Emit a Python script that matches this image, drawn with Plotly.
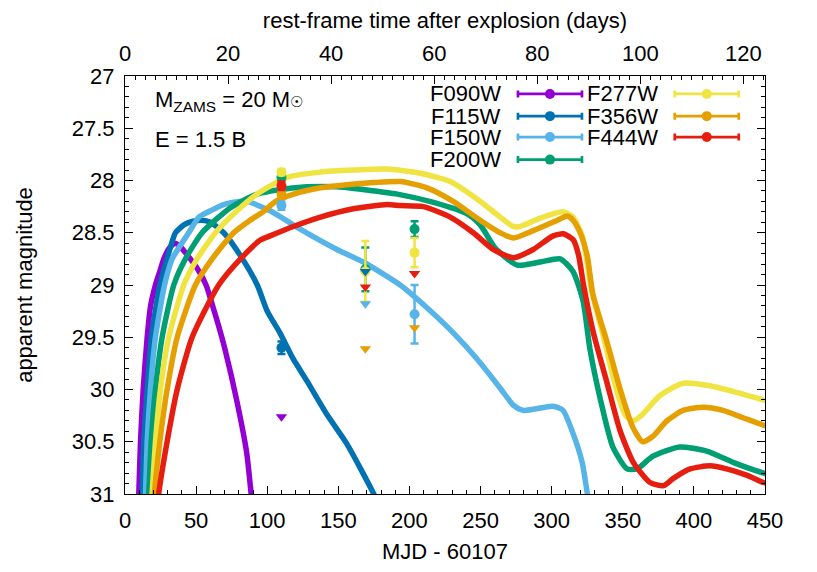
import plotly.graph_objects as go

# light curves: MJD - 60107 vs apparent magnitude
F090W_X = [9.3, 9.7, 10.9, 12.8, 15.6, 18.0, 21.4, 24.5, 27.3, 31.0, 35.0, 38.0, 43.0, 50.7, 57.0, 60.5,
           66.0, 70.0, 78.5, 85.5, 88.7, 89.8]
F090W_Y = [31.15, 31.0, 30.5, 30.0, 29.5, 29.2, 29.0, 28.87, 28.75, 28.65, 28.6, 28.62, 28.7, 28.84, 29.0, 29.15,
           29.4, 29.6, 30.1, 30.6, 31.0, 31.15]

F115W_X = [11.5, 12.1, 13.2, 15.6, 18.6, 24.5, 29.6, 35.5, 42.0, 48.0, 54.0, 60.0, 69.4, 81.2, 93.0, 100.0,
           109.0, 118.4, 128.0, 142.0, 156.0, 174.6, 180.0]
F115W_Y = [31.15, 31.0, 30.5, 30.0, 29.5, 29.0, 28.75, 28.5, 28.42, 28.39, 28.38, 28.4, 28.5, 28.72, 29.0, 29.25,
           29.46, 29.71, 29.92, 30.24, 30.52, 30.99, 31.15]

F150W_X = [13.8, 14.4, 15.6, 17.9, 21.4, 27.8, 33.2, 44.8, 52.0, 60.0, 69.2, 81.2, 86.0, 102.0, 125.0, 149.0,
           167.5, 193.5, 212.5, 231.0, 247.7, 264.0, 273.0, 280.0, 301.0, 308.0, 315.0, 321.5, 325.0, 327.0]
F150W_Y = [31.15, 31.0, 30.5, 30.0, 29.5, 29.0, 28.75, 28.5, 28.35, 28.29, 28.23, 28.2, 28.2, 28.29, 28.48, 28.66,
           28.78, 29.0, 29.22, 29.46, 29.71, 29.99, 30.15, 30.2, 30.16, 30.2, 30.42, 30.7, 30.99, 31.15]

F200W_X = [16.2, 16.7, 18.4, 21.4, 26.1, 34.3, 42.5, 54.2, 74.1, 92.9, 107.0, 128.0, 149.0, 170.0, 191.5, 217.0,
           240.6, 250.0, 260.5, 275.8, 292.0, 306.0, 315.0, 322.0, 327.0, 334.0, 343.0, 353.0, 360.0, 371.0,
           390.0, 409.0, 428.0, 449.0, 452.0]
F200W_Y = [31.15, 31.0, 30.5, 30.0, 29.5, 29.0, 28.75, 28.5, 28.26, 28.13, 28.09, 28.06, 28.06, 28.09, 28.13, 28.21,
           28.32, 28.43, 28.65, 28.81, 28.78, 28.75, 28.87, 29.15, 29.62, 30.08, 30.55, 30.76, 30.76, 30.64,
           30.55, 30.59, 30.7, 30.8, 30.81]

F277W_X = [18.5, 19.1, 21.4, 24.9, 30.8, 41.3, 50.7, 63.6, 78.8, 92.9, 114.0, 137.0, 160.5, 184.4, 207.6, 228.7,
           249.8, 263.8, 273.0, 278.0, 292.0, 308.0, 315.0, 321.5, 324.5, 328.0, 336.5, 345.5, 352.0, 357.0,
           363.0, 376.0, 392.4, 409.0, 428.0, 449.0, 452.0]
F277W_Y = [31.15, 31.0, 30.5, 30.0, 29.5, 29.0, 28.75, 28.5, 28.29, 28.13, 27.97, 27.92, 27.9, 27.89, 27.93, 28.01,
           28.2, 28.35, 28.44, 28.44, 28.36, 28.3, 28.35, 28.53, 28.75, 29.05, 29.5, 30.0, 30.25, 30.3,
           30.25, 30.06, 29.94, 29.96, 30.02, 30.1, 30.11]

F356W_X = [20.2, 20.7, 24.5, 29.6, 36.7, 49.5, 61.3, 76.4, 88.0, 97.0, 106.0, 118.6, 137.4, 156.0, 174.6, 193.6,
           212.3, 230.8, 249.7, 263.8, 273.0, 287.0, 304.0, 311.0, 315.0, 320.0, 325.0, 329.0, 339.0, 348.0,
           357.0, 364.0, 371.0, 381.0, 392.4, 406.5, 420.5, 434.6, 448.7, 452.0]
F356W_Y = [31.15, 31.0, 30.5, 30.0, 29.5, 29.0, 28.75, 28.5, 28.38, 28.3, 28.2, 28.13, 28.07, 28.04, 28.02, 28.01,
           28.07, 28.2, 28.38, 28.5, 28.55, 28.48, 28.38, 28.34, 28.38, 28.5, 28.72, 29.09, 29.55, 29.99,
           30.36, 30.5, 30.45, 30.3, 30.2, 30.17, 30.2, 30.27, 30.34, 30.35]

F444W_X = [23.0, 23.7, 29.6, 36.7, 47.2, 65.9, 81.2, 95.2, 102.0, 118.4, 137.4, 160.5, 184.4, 193.5, 209.7, 228.7,
           244.9, 258.9, 273.0, 287.0, 301.0, 308.3, 315.3, 319.0, 322.4, 329.4, 338.8, 348.0, 357.5, 369.2,
           378.6, 385.6, 397.3, 411.4, 423.0, 437.0, 448.8, 452.0]
F444W_Y = [31.15, 31.0, 30.5, 30.0, 29.5, 29.0, 28.75, 28.57, 28.53, 28.44, 28.35, 28.27, 28.23, 28.24, 28.25, 28.35,
           28.5, 28.66, 28.74, 28.66, 28.53, 28.51, 28.57, 28.72, 29.0, 29.46, 29.93, 30.39, 30.7, 30.89,
           30.92, 30.85, 30.76, 30.73, 30.76, 30.82, 30.89, 30.9]

FILTERS = ["F090W", "F115W", "F150W", "F200W", "F277W", "F356W", "F444W"]
COLORS = ["#9400D3", "#0072B2", "#56B4E9", "#009E73", "#F0E442", "#E69F00", "#E51E10"]
CURVES_X = [F090W_X, F115W_X, F150W_X, F200W_X, F277W_X, F356W_X, F444W_X]
CURVES_Y = [F090W_Y, F115W_Y, F150W_Y, F200W_Y, F277W_Y, F356W_Y, F444W_Y]

# observed photometry (detections with errors, and upper limits)
DET_X = {"F115W": [110], "F150W": [110, 203.6], "F200W": [110, 169, 203.6],
         "F277W": [110, 169, 203.6], "F356W": [110], "F444W": [110]}
DET_Y = {"F115W": [29.6], "F150W": [28.24, 29.28], "F200W": [27.97, 28.85, 28.465],
         "F277W": [27.92, 28.87, 28.69], "F356W": [28.13], "F444W": [28.05]}
DET_ERR = {"F115W": [0.06], "F150W": [0.04, 0.28], "F200W": [0.03, 0.21, 0.075],
           "F277W": [0.03, 0.29, 0.14], "F356W": [0.03], "F444W": [0.04]}
LIM_X = {"F090W": [110], "F115W": [169], "F150W": [169], "F356W": [169, 203.6], "F444W": [169, 203.6]}
LIM_Y = {"F090W": [30.26], "F115W": [28.87], "F150W": [29.18], "F356W": [29.61, 29.41], "F444W": [29.02, 28.89]}

TIME_DILATION = 3.623  # MJD days per rest-frame day
X_MAX = 450
FONT = "Liberation Sans"
FS = 22

fig = go.Figure()

for name, col, xs, ys in zip(FILTERS, COLORS, CURVES_X, CURVES_Y):
    fig.add_trace(go.Scatter(x=xs, y=ys, mode="lines",
                             line=dict(color=col, width=5.5, shape="spline", smoothing=0.6),
                             showlegend=False, hoverinfo="skip"))

for name, col in zip(FILTERS, COLORS):
    if name in DET_X:
        fig.add_trace(go.Scatter(
            x=DET_X[name], y=DET_Y[name], mode="markers",
            marker=dict(symbol="circle", size=10, color=col),
            error_y=dict(type="data", array=DET_ERR[name], color=col, thickness=2.5, width=4),
            showlegend=False))

for name, col in zip(FILTERS, COLORS):
    if name in LIM_X:
        fig.add_trace(go.Scatter(
            x=LIM_X[name], y=LIM_Y[name], mode="markers",
            marker=dict(symbol="triangle-down", size=10, color=col),
            showlegend=False))

# dummy trace so the top (rest-frame) axis is drawn
fig.add_trace(go.Scatter(x=[0], y=[None], xaxis="x2", mode="markers", showlegend=False, hoverinfo="skip"))

# hand-made key: label, then a sample with error-bar caps and a dot
key_cols = [(0.591, 0.664), (0.836, 0.909)]
key_rows = [0.957, 0.904, 0.854, 0.800]
for i, (name, col) in enumerate(zip(FILTERS, COLORS)):
    c, r = divmod(i, 4)
    tx, mx = key_cols[c]
    ty = key_rows[r]
    fig.add_annotation(x=tx, y=ty, xref="paper", yref="paper", text=name, showarrow=False,
                       xanchor="right", yanchor="middle", font=dict(family=FONT, size=FS, color="black"))
    fig.add_trace(go.Scatter(
        x=[mx], y=[ty], xaxis="x3", yaxis="y3", mode="markers",
        marker=dict(symbol="circle", size=10, color=col),
        error_x=dict(type="constant", value=0.05, color=col, thickness=2.7, width=3.5),
        showlegend=False, hoverinfo="skip"))

fig.add_annotation(x=0.0445, y=0.94, xref="paper", yref="paper", showarrow=False,
                   xanchor="left", yanchor="middle",
                   text="M<sub>ZAMS</sub> = 20 M<span style='font-size:15px'>☉</span>",
                   font=dict(family=FONT, size=22, color="black"))
fig.add_annotation(x=0.0445, y=0.849, xref="paper", yref="paper", showarrow=False,
                   xanchor="left", yanchor="middle", text="E = 1.5 B",
                   font=dict(family=FONT, size=22, color="black"))

axis_common = dict(showline=True, linecolor="black", linewidth=1.2, ticks="inside",
                   tickcolor="black", ticklen=8, tickwidth=1, showgrid=False, zeroline=False,
                   tickfont=dict(family=FONT, size=FS, color="black"))

# the page body adds an 8 px offset, so the figure is a little smaller than the window
fig.update_layout(
    width=809, height=564,
    margin=dict(l=116.5, r=52, t=60, b=73),
    paper_bgcolor="white", plot_bgcolor="white",
    showlegend=False,
    font=dict(family=FONT, size=FS, color="black"),
    xaxis=dict(range=[0, X_MAX], dtick=50, mirror=True, ticklabelstandoff=6,
               minor=dict(dtick=10, ticks="inside", ticklen=4, tickcolor="black"),
               title=dict(text="MJD - 60107", font=dict(family=FONT, size=FS), standoff=12),
               **axis_common),
    xaxis2=dict(range=[0, X_MAX / TIME_DILATION], dtick=20, overlaying="x", side="top",
                ticklabelstandoff=5,
                minor=dict(dtick=2, ticks="inside", ticklen=4, tickcolor="black"),
                title=dict(text="rest-frame time after explosion (days)", font=dict(family=FONT, size=FS),
                           standoff=6),
                **axis_common),
    yaxis=dict(range=[31, 27], dtick=0.5, mirror="ticks", ticklabelstandoff=5,
               minor=dict(dtick=0.1, ticks="inside", ticklen=4, tickcolor="black"),
               title=dict(text="apparent magnitude", font=dict(family=FONT, size=FS), standoff=32),
               **axis_common),
    xaxis3=dict(range=[0, 1], overlaying="x", visible=False, fixedrange=True),
    yaxis3=dict(range=[0, 1], overlaying="y", visible=False, fixedrange=True),
)

fig.write_html("out.html")
